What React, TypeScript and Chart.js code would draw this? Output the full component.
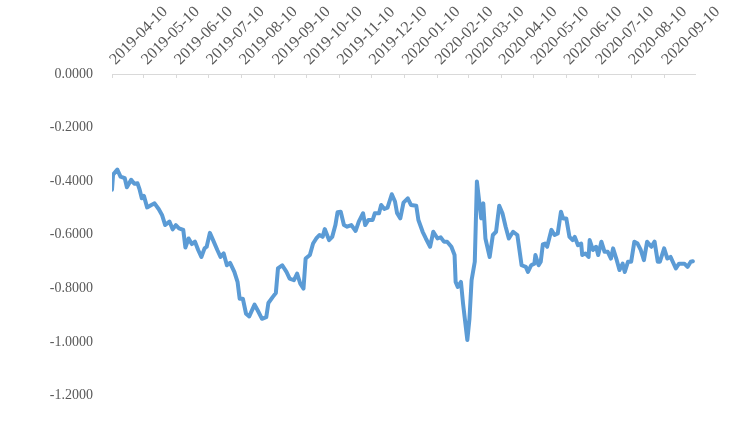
import { useEffect, useRef } from "react";
import { Chart, registerables } from "chart.js";

Chart.register(...registerables);

const START_DATE = "2019-04-10";
const END_DAY = 548; // 2020-10-09, last trading day shown

const tickLabels = [
  "2019-04-10", "2019-05-10", "2019-06-10", "2019-07-10", "2019-08-10", "2019-09-10",
  "2019-10-10", "2019-11-10", "2019-12-10", "2020-01-10", "2020-02-10", "2020-03-10",
  "2020-04-10", "2020-05-10", "2020-06-10", "2020-07-10", "2020-08-10", "2020-09-10",
];

// days since 2019-04-10
const dayOffsets = [
  0, 1, 5, 8, 12, 14, 18, 21, 24, 26, 28, 30, 33, 37, 40, 44, 47, 50, 54, 57,
  60, 63, 67, 69, 72, 75, 78, 81, 84, 87, 89, 92, 95, 99, 102, 105, 108, 111, 115, 118,
  120, 123, 126, 129, 134, 137, 141, 145, 147, 151, 154, 156, 160, 164, 167, 171, 174, 177, 180, 182,
  186, 189, 192, 195, 198, 200, 204, 207, 210, 212, 215, 218, 221, 225, 229, 232, 236, 238, 241, 245,
  247, 251, 253, 256, 259, 263, 266, 268, 271, 274, 278, 281, 286, 288, 292, 295, 299, 302, 306, 309,
  312, 315, 319, 322, 323, 325, 328, 330, 334, 336, 338, 341, 343, 345, 347, 349, 351, 355, 358, 361,
  364, 367, 370, 373, 377, 381, 385, 389, 391, 394, 397, 398, 401, 403, 405, 407, 409, 413, 416, 419,
  422, 424, 427, 430, 433, 435, 438, 441, 442, 445, 448, 449, 452, 455, 457, 460, 463, 466, 469, 471,
  474, 477, 480, 482, 485, 488, 491, 494, 497, 500, 503, 507, 510, 513, 515, 519, 522, 525, 530, 533,
  538, 541, 544, 546,
];

const values = [
  -0.432, -0.376, -0.357, -0.383, -0.389, -0.423, -0.395, -0.410, -0.408, -0.432, -0.464, -0.455, -0.498, -0.489, -0.483, -0.505, -0.526, -0.564, -0.551, -0.580,
  -0.564, -0.576, -0.582, -0.648, -0.614, -0.635, -0.626, -0.657, -0.683, -0.651, -0.645, -0.593, -0.620, -0.657, -0.683, -0.670, -0.714, -0.705, -0.739, -0.776,
  -0.839, -0.839, -0.895, -0.905, -0.861, -0.883, -0.914, -0.908, -0.855, -0.833, -0.818, -0.726, -0.714, -0.739, -0.764, -0.770, -0.745, -0.783, -0.801, -0.689,
  -0.676, -0.633, -0.614, -0.601, -0.608, -0.579, -0.620, -0.608, -0.564, -0.516, -0.514, -0.564, -0.570, -0.564, -0.586, -0.551, -0.520, -0.564, -0.545, -0.545,
  -0.520, -0.520, -0.489, -0.504, -0.499, -0.449, -0.476, -0.520, -0.539, -0.480, -0.464, -0.489, -0.492, -0.545, -0.589, -0.614, -0.645, -0.589, -0.614, -0.610,
  -0.626, -0.626, -0.645, -0.676, -0.776, -0.795, -0.776, -0.858, -0.993, -0.914, -0.770, -0.701, -0.401, -0.470, -0.539, -0.483, -0.614, -0.683, -0.601, -0.589,
  -0.492, -0.520, -0.570, -0.614, -0.589, -0.601, -0.714, -0.720, -0.739, -0.714, -0.708, -0.676, -0.714, -0.701, -0.636, -0.633, -0.645, -0.582, -0.601, -0.595,
  -0.514, -0.539, -0.539, -0.608, -0.620, -0.608, -0.639, -0.633, -0.676, -0.670, -0.683, -0.620, -0.657, -0.645, -0.676, -0.626, -0.664, -0.664, -0.689, -0.651,
  -0.689, -0.732, -0.708, -0.739, -0.701, -0.701, -0.626, -0.633, -0.657, -0.695, -0.626, -0.645, -0.626, -0.701, -0.701, -0.651, -0.689, -0.683, -0.726, -0.708,
  -0.708, -0.720, -0.701, -0.699,
];

const Y_MIN = -1.4;
const Y_MAX = 0;
const Y_STEP = 0.2;

function daysBetween(a: string, b: string): number {
  return Math.round((Date.parse(b) - Date.parse(a)) / 86400000);
}

export default function App() {
  const ref = useRef<HTMLCanvasElement>(null);

  useEffect(() => {
    const tickDays = tickLabels.map((l) => daysBetween(START_DATE, l));
    const chart = new Chart(ref.current!, {
      type: "line",
      data: {
        datasets: [
          {
            data: dayOffsets.map((d, i) => ({ x: d, y: values[i] })),
            borderColor: "#5B9BD5",
            borderWidth: 4,
            pointRadius: 0,
            tension: 0,
            borderJoinStyle: "round",
            borderCapStyle: "round",
            fill: false,
          },
        ],
      },
      options: {
        animation: false,
        responsive: false,
        maintainAspectRatio: false,
        layout: { padding: { left: 0, right: 45, top: 2, bottom: 0 } },
        plugins: { legend: { display: false }, tooltip: { enabled: false } },
        scales: {
          x: {
            type: "linear",
            position: "top",
            min: 0,
            max: END_DAY,
            afterBuildTicks: (s: any) => {
              s.ticks = tickDays.map((v) => ({ value: v }));
            },
            afterFit: (s: any) => {
              s.height = 72;
            },
            grid: { drawOnChartArea: false, drawTicks: true, tickLength: -4, color: "#d9d9d9" },
            border: { display: true, color: "#d9d9d9" },
            ticks: {
              autoSkip: false,
              minRotation: 45,
              maxRotation: 45,
              padding: 9,
              labelOffset: 14,
              color: "#595959",
              font: { family: "Liberation Serif", size: 16 },
              callback: (v: any) => {
                const i = tickDays.indexOf(Number(v));
                return i >= 0 ? tickLabels[i] : "";
              },
            },
          },
          y: {
            min: Y_MIN,
            max: Y_MAX,
            afterFit: (s: any) => {
              s.width = 112;
              s.paddingTop = 0;
              s.paddingBottom = 0;
            },
            grid: { display: false, drawTicks: false },
            border: { display: false },
            ticks: {
              stepSize: Y_STEP,
              padding: 19,
              color: "#595959",
              font: { family: "Liberation Serif", size: 14 },
              callback: (v: any) => Number(v).toFixed(4),
            },
          },
        },
      },
    });
    return () => chart.destroy();
  }, []);

  return (
    <div
      style={{
        position: "fixed",
        left: 0,
        top: 0,
        width: 740,
        height: 440,
        overflow: "hidden",
        background: "#ffffff",
      }}
    >
      <canvas ref={ref} width={740} height={449} style={{ display: "block", width: 740, height: 449 }} />
    </div>
  );
}
